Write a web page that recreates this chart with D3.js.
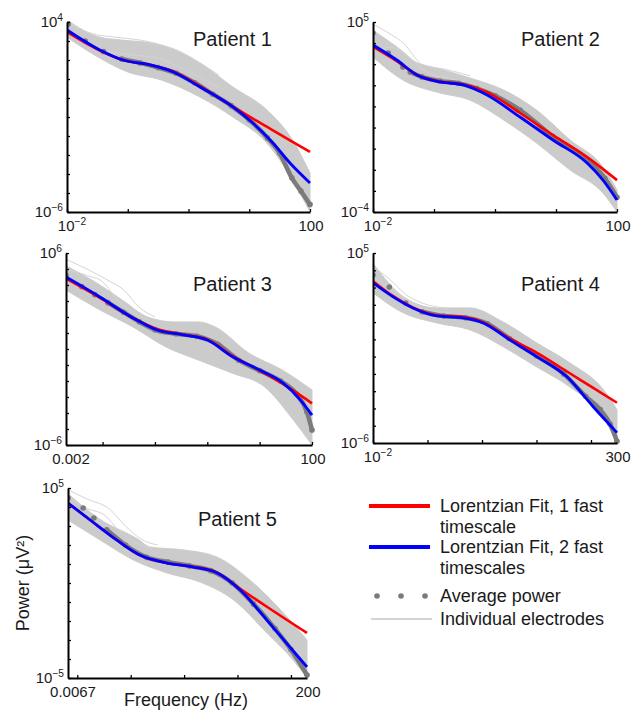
<!DOCTYPE html>
<html>
<head>
<meta charset="utf-8">
<script src="https://cdn.jsdelivr.net/npm/d3@7"></script>
<style>
  body { margin: 0; background: #fff; }
  text { font-family: "Liberation Sans", Arial, sans-serif; fill: #1a1a1a; }
</style>
</head>
<body>
<svg id="chart" width="633" height="715"></svg>
<script>
// all points are [log10 frequency (Hz), log10 power (uV^2)]

const titles = ["Patient 1", "Patient 2", "Patient 3", "Patient 4", "Patient 5"];
const xDomains = [[0.01, 100], [0.01, 100], [0.002, 100], [0.01, 300], [0.0067, 200]];
const yDomains = [[1e-6, 1e4], [1e-4, 1e5], [1e-6, 1e6], [1e-6, 1e5], [1e-5, 1e5]];
const xTickLabels = [["10^−2", "100"], ["10^−2", "100"], ["0.002", "100"], ["10^−2", "300"], ["0.0067", "200"]];
const yTickLabels = [["10^4", "10^−6"], ["10^5", "10^−4"], ["10^6", "10^−6"], ["10^5", "10^−6"], ["10^5", "10^−5"]];

// Patient 1
const p1Red   = [[-2,3.47],[-1.46,2.5],[-1.08,2.0],[-0.63,1.74],[-0.25,1.4],[0.19,0.62],[0.73,-0.45],[1.06,-1.09],[1.39,-1.7],[1.67,-2.23],[2,-2.84]];
const p1Blue  = [[-2,3.58],[-1.46,2.53],[-1.08,2.0],[-0.63,1.74],[-0.25,1.37],[0.19,0.58],[0.73,-0.47],[1.06,-1.32],[1.39,-2.37],[1.67,-3.42],[2,-4.47]];
const p1Avg   = [[-1.98,3.9],[-1.7,3.0],[-1.4,2.45],[-1.1,2.05],[-0.8,1.85],[-0.5,1.6],[-0.2,1.3],[0.1,0.8],[0.4,0.2],[0.7,-0.4],[1.0,-1.15],[1.3,-2.1],[1.5,-2.9],[1.7,-4.2],[1.85,-4.9],[2,-5.6]];
const p1Upper = [[-2,4.1],[-1.46,3.2],[-1.1,3.05],[-0.63,2.9],[-0.2,2.53],[0.19,1.84],[0.73,0.58],[1.29,-0.63],[1.71,-2.2],[2,-3.95]];
const p1Lower = [[-2,3.2],[-1.46,2.1],[-1.0,1.37],[-0.45,0.95],[0.19,0.05],[0.73,-1.0],[1.29,-2.37],[1.71,-4.3],[2,-6]];
const p1TraceA = [[-2,4.0],[-1.6,3.4],[-1.2,3.2],[-0.8,3.05],[-0.4,2.75],[0,2.2],[0.5,1.2]];
const p1TraceB = [[-2,3.5],[-1.5,2.6],[-1.0,2.3],[-0.5,2.1],[0,1.4],[0.6,0.4]];

// Patient 2
const p2Red   = [[-2,3.83],[-1.61,3.15],[-1.28,2.5],[-0.9,2.18],[-0.52,2.05],[-0.13,1.68],[0.41,0.69],[0.95,-0.36],[1.51,-1.4],[2,-2.49]];
const p2Blue  = [[-2,3.91],[-1.61,3.2],[-1.28,2.49],[-0.9,2.16],[-0.52,2.02],[-0.13,1.54],[0.41,0.5],[0.95,-0.59],[1.51,-1.68],[1.77,-2.49],[2,-3.43]];
const p2Avg   = [[-2,4.48],[-1.75,3.53],[-1.51,2.87],[-1.39,2.63],[-1.2,2.4],[-0.9,2.2],[-0.6,2.1],[-0.3,1.85],[0,1.5],[0.41,0.83],[0.95,-0.43],[1.51,-1.5],[1.8,-2.4],[2,-3.3]];
const p2Upper = [[-2,4.6],[-1.51,3.6],[-1.3,3.1],[-0.96,2.82],[-0.41,2.35],[0.14,1.78],[0.68,0.83],[1.23,-0.59],[1.77,-1.87],[2,-2.96]];
const p2Lower = [[-2,3.34],[-1.51,2.25],[-0.96,1.68],[-0.41,1.3],[0.14,0.36],[0.68,-0.73],[1.23,-2.01],[1.77,-3.1],[2,-4]];
const p2TraceA = [[-2,4.9],[-1.7,4.4],[-1.5,4.0],[-1.2,3.0],[-0.8,2.75],[-0.4,2.45]];
const p2TraceB = [[-2,3.6],[-1.7,3.8],[-1.4,3.3],[-1.1,2.6],[-0.7,2.3],[-0.3,2.0]];

// Patient 3
const p3Red   = [[-2.699,4.4],[-2.05,3.2],[-1.42,1.94],[-0.96,1.25],[-0.46,0.9],[0,0.6],[0.49,-0.45],[1.0,-1.35],[1.45,-2.2],[1.78,-2.9],[2,-3.4]];
const p3Blue  = [[-2.699,4.5],[-2.05,3.25],[-1.42,1.94],[-0.96,1.19],[-0.46,0.88],[0,0.56],[0.49,-0.5],[1.0,-1.31],[1.45,-2.13],[1.78,-3.19],[2,-4.13]];
const p3Avg   = [[-2.699,4.6],[-2.4,3.9],[-2.15,3.4],[-1.9,2.9],[-1.6,2.3],[-1.3,1.7],[-1.0,1.2],[-0.6,0.95],[-0.2,0.8],[0.2,0.3],[0.6,-0.7],[1.0,-1.35],[1.4,-2.0],[1.7,-2.8],[1.9,-3.9],[2,-5.06]];
const p3Upper = [[-2.699,5.2],[-2.05,4.0],[-1.6,3.0],[-1.14,2.0],[-0.62,1.69],[-0.17,1.69],[0.15,1.38],[0.79,-0.25],[1.43,-1.31],[2,-2.56]];
const p3Lower = [[-2.699,3.69],[-2.05,2.44],[-1.42,1.38],[-0.79,0.13],[-0.17,-0.69],[0.47,-1.5],[1.1,-2.38],[1.6,-4.25],[2,-6]];
const p3TraceA = [[-2.699,5.6],[-2.3,5.0],[-1.9,4.3],[-1.6,3.7],[-1.3,2.6],[-1.0,2.0]];
const p3TraceB = [[-2.699,5.0],[-2.3,4.6],[-2.0,4.2],[-1.7,3.0],[-1.4,2.2],[-1.1,1.8]];

// Patient 4
const p4Red   = [[-2,3.37],[-1.63,2.5],[-1.27,1.85],[-0.83,1.4],[-0.35,1.3],[0.02,1.0],[0.51,0.05],[1.01,-0.78],[1.56,-1.86],[2.04,-2.81],[2.477,-3.67]];
const p4Blue  = [[-2,3.27],[-1.63,2.46],[-1.27,1.82],[-0.83,1.36],[-0.35,1.24],[0.02,0.95],[0.51,-0.03],[1.01,-1.01],[1.56,-2.17],[2.04,-3.9],[2.477,-5.4]];
const p4Avg   = [[-2,3.73],[-1.7,3.03],[-1.4,2.1],[-1.1,1.6],[-0.7,1.35],[-0.3,1.25],[0.1,0.9],[0.5,0.05],[1.0,-0.95],[1.5,-2.0],[1.9,-3.3],[2.17,-4.07],[2.35,-4.9],[2.477,-5.9]];
const p4Upper = [[-2,4.4],[-1.44,2.46],[-0.83,1.82],[-0.22,1.82],[0.39,1.0],[1.0,-0.2],[1.61,-1.36],[2.23,-2.92],[2.477,-4.07]];
const p4Lower = [[-2,2.69],[-1.44,1.53],[-0.83,0.95],[-0.22,0.55],[0.39,-0.43],[1.0,-1.59],[1.61,-2.75],[2.23,-4.5],[2.477,-6]];
const p4TraceA = [[-2,4.2],[-1.7,3.5],[-1.4,2.6],[-1.0,2.0],[-0.6,1.8]];
const p4TraceB = [[-2,3.6],[-1.7,3.0],[-1.4,2.3],[-1.0,1.7],[-0.6,1.55]];

// Patient 5
const p5Red   = [[-2.174,4.21],[-1.71,3.21],[-1.26,2.26],[-0.83,1.47],[-0.32,1.05],[0.17,0.86],[0.62,0.55],[1.05,-0.3],[1.55,-1.25],[2.301,-2.63]];
const p5Blue  = [[-2.174,4.21],[-1.71,3.21],[-1.26,2.26],[-0.83,1.47],[-0.32,1.05],[0.17,0.84],[0.62,0.53],[1.05,-0.37],[1.55,-1.95],[1.98,-3.37],[2.301,-4.42]];
const p5Avg   = [[-2.174,4.47],[-1.89,3.95],[-1.69,3.42],[-1.45,2.8],[-1.1,2.0],[-0.7,1.35],[-0.3,1.1],[0.1,0.9],[0.5,0.65],[0.9,0.0],[1.3,-1.1],[1.7,-2.4],[2.0,-3.5],[2.301,-4.84]];
const p5Upper = [[-2.174,4.7],[-1.6,3.4],[-0.84,2.26],[-0.65,1.9],[-0.01,1.74],[0.61,1.37],[1.23,0.16],[1.86,-1.58],[2.301,-3.0]];
const p5Lower = [[-2.174,3.32],[-1.57,2.26],[-0.95,1.21],[-0.32,0.53],[0.3,0.05],[0.93,-0.9],[1.55,-2.63],[2.04,-4.05],[2.301,-5]];
const p5TraceA = [[-2.174,4.9],[-1.8,4.4],[-1.4,3.9],[-1.1,3.0],[-0.8,2.3],[-0.5,2.0]];
const p5TraceB = [[-2.174,4.6],[-1.8,3.9],[-1.5,3.6],[-1.2,2.7],[-0.9,2.1],[-0.6,1.8]];

const legendLabels = [["Lorentzian Fit, 1 fast", "timescale"], ["Lorentzian Fit, 2 fast", "timescales"], ["Average power"], ["Individual electrodes"]];

// layout
const boxes = [
  {x0: 67, x1: 310, y0: 22, y1: 212},
  {x0: 373, x1: 617, y0: 22, y1: 212},
  {x0: 66, x1: 312, y0: 253, y1: 445},
  {x0: 373, x1: 617, y0: 253, y1: 443},
  {x0: 68, x1: 307, y0: 488, y1: 678}
];
const titlePos = [[193, 46], [521, 46], [193, 291], [521, 291], [198, 526]];

const RED = "#ff0000", BLUE = "#0000ff", AVG = "#7b7b7b", BAND = "#cbcbcb", FAINT = "#d4d4d4";

const panels = titles.map((t, i) => ({
  title: t,
  box: boxes[i],
  xDomain: xDomains[i],
  yDomain: yDomains[i],
  xLabels: xTickLabels[i],
  yLabels: yTickLabels[i],
  red: [p1Red, p2Red, p3Red, p4Red, p5Red][i],
  blue: [p1Blue, p2Blue, p3Blue, p4Blue, p5Blue][i],
  avg: [p1Avg, p2Avg, p3Avg, p4Avg, p5Avg][i],
  upper: [p1Upper, p2Upper, p3Upper, p4Upper, p5Upper][i],
  lower: [p1Lower, p2Lower, p3Lower, p4Lower, p5Lower][i],
  traces: [[p1TraceA, p1TraceB], [p2TraceA, p2TraceB], [p3TraceA, p3TraceB], [p4TraceA, p4TraceB], [p5TraceA, p5TraceB]][i]
}));

const svg = d3.select("#chart");
const defs = svg.append("defs");

// text like "10^−6" -> base + superscript
function supText(sel, str, size) {
  const parts = str.split("^");
  sel.append("tspan").attr("font-size", size).text(parts[0]);
  if (parts[1]) {
    sel.append("tspan").attr("font-size", size * 0.68).attr("dy", -size * 0.42).text(parts[1]);
  }
  return sel;
}

panels.forEach((p, i) => {
  const b = p.box;
  const x = d3.scaleLog().domain(p.xDomain).range([b.x0, b.x1]);
  const y = d3.scaleLog().domain(p.yDomain).range([b.y1, b.y0]);
  const g = svg.append("g").attr("class", "panel");

  defs.append("clipPath").attr("id", "clip" + i)
    .append("rect")
      .attr("x", b.x0).attr("y", b.y0 - 1)
      .attr("width", b.x1 - b.x0 + 3).attr("height", b.y1 - b.y0 + 2);

  const plot = g.append("g").attr("clip-path", "url(#clip" + i + ")");

  const line = d3.line()
    .x(d => x(10 ** d[0]))
    .y(d => y(10 ** d[1]))
    .curve(d3.curveMonotoneX);

  // electrode band
  const bandPath = line(p.upper) + "L" + line(p.lower.slice().reverse()).slice(1) + "Z";
  plot.append("path")
    .attr("d", bandPath)
    .attr("fill", BAND)
    .attr("stroke", BAND)
    .attr("stroke-width", 1);

  plot.selectAll(".trace")
    .data(p.traces)
    .enter().append("path")
      .attr("class", "trace")
      .attr("d", line)
      .attr("fill", "none")
      .attr("stroke", FAINT)
      .attr("stroke-width", 1);

  // average power: sparse dots at low f, merging into a thick trace
  plot.append("path")
    .attr("d", line(p.avg.slice(3)))
    .attr("fill", "none")
    .attr("stroke", AVG)
    .attr("stroke-width", 4.5)
    .attr("stroke-linecap", "round");
  plot.selectAll(".avgdot")
    .data(p.avg)
    .enter().append("circle")
      .attr("class", "avgdot")
      .attr("cx", d => x(10 ** d[0]))
      .attr("cy", d => y(10 ** d[1]))
      .attr("r", 2.8)
      .attr("fill", AVG);

  plot.append("path")
    .attr("d", line(p.red))
    .attr("fill", "none")
    .attr("stroke", RED)
    .attr("stroke-width", 2.6);

  plot.append("path")
    .attr("d", line(p.blue))
    .attr("fill", "none")
    .attr("stroke", BLUE)
    .attr("stroke-width", 2.8);

  // axes
  const lx = Math.log10(p.xDomain[0]), hx = Math.log10(p.xDomain[1]);
  const xTicks = d3.range(Math.ceil(lx), Math.floor(hx) + 1).map(e => 10 ** e);
  const ly = Math.log10(p.yDomain[0]), hy = Math.log10(p.yDomain[1]);
  const yTicks = d3.range(ly, hy + 1).map(e => 10 ** e);

  const xAxis = g.append("g")
    .attr("transform", "translate(0," + b.y1 + ")")
    .call(d3.axisBottom(x).tickValues(xTicks).tickSize(-3).tickSizeOuter(0).tickFormat(""));
  const yAxis = g.append("g")
    .attr("transform", "translate(" + b.x0 + ",0)")
    .call(d3.axisLeft(y).tickValues(yTicks).tickSize(-3).tickSizeOuter(0).tickFormat(""));
  [xAxis, yAxis].forEach(a => {
    a.select(".domain").attr("stroke", "#000").attr("stroke-width", 2);
    a.selectAll(".tick line").attr("stroke", "#000").attr("stroke-width", 1.3);
  });

  // end labels only
  supText(g.append("text").attr("x", b.x0 + 5).attr("y", b.y1 + 19).attr("text-anchor", "middle"), p.xLabels[0], 15);
  supText(g.append("text").attr("x", b.x1 + 1).attr("y", b.y1 + 19).attr("text-anchor", "middle"), p.xLabels[1], 15);
  supText(g.append("text").attr("x", b.x0 - 4).attr("y", b.y0 + 5).attr("text-anchor", "end"), p.yLabels[0], 15);
  supText(g.append("text").attr("x", b.x0 - 4).attr("y", b.y1 + 5).attr("text-anchor", "end"), p.yLabels[1], 15);

  g.append("text")
    .attr("x", titlePos[i][0]).attr("y", titlePos[i][1])
    .attr("font-size", 20)
    .text(p.title);
});

// axis titles
svg.append("text")
  .attr("transform", "translate(29,583) rotate(-90)")
  .attr("text-anchor", "middle")
  .attr("font-size", 18)
  .text("Power (μV²)");
svg.append("text")
  .attr("x", 186).attr("y", 706)
  .attr("text-anchor", "middle")
  .attr("font-size", 18)
  .text("Frequency (Hz)");

// legend
const legend = svg.append("g").attr("class", "legend");
const legendKeyY = [506, 547, 596, 619];
const legendTextX = 440;
legend.append("line").attr("x1", 369).attr("x2", 430).attr("y1", legendKeyY[0]).attr("y2", legendKeyY[0])
  .attr("stroke", RED).attr("stroke-width", 4);
legend.append("line").attr("x1", 369).attr("x2", 430).attr("y1", legendKeyY[1]).attr("y2", legendKeyY[1])
  .attr("stroke", BLUE).attr("stroke-width", 4);
legend.selectAll(".ldot").data([377, 401, 425]).enter().append("circle")
  .attr("class", "ldot")
  .attr("cx", d => d).attr("cy", legendKeyY[2]).attr("r", 2.8).attr("fill", AVG);
legend.append("line").attr("x1", 371).attr("x2", 432).attr("y1", legendKeyY[3]).attr("y2", legendKeyY[3])
  .attr("stroke", "#c4c4c4").attr("stroke-width", 1.6);

legendLabels.forEach((lines, k) => {
  const t = legend.append("text")
    .attr("x", legendTextX)
    .attr("y", legendKeyY[k] + 6)
    .attr("font-size", 18);
  lines.forEach((s, j) => {
    t.append("tspan").attr("x", legendTextX).attr("dy", j ? 21 : 0).text(s);
  });
});
</script>
</body>
</html>
